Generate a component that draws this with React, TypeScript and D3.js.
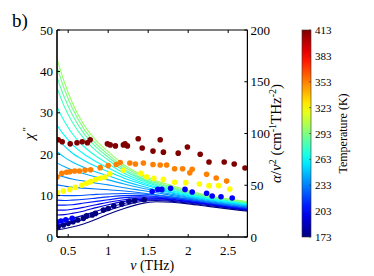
import * as d3 from 'd3';

// frequency grid (THz) shared by every chi'' curve
const FREQ = [0.36, 0.45, 0.55, 0.7, 0.85, 1.0, 1.2, 1.4, 1.6, 1.8, 2.0, 2.25, 2.5, 2.75];

// temperature (K) of each chi'' curve
const LINE_TEMPS = [173, 180, 187, 194, 201, 208, 215, 222, 229, 236, 243, 250, 257, 264, 271, 278, 285, 292, 299];

// chi'' values, one row per temperature
const CHI = [
  [1.7, 2.0, 2.4, 3.2, 4.3, 5.5, 6.9, 8.0, 8.5, 8.4, 8.0, 7.4, 6.8, 6.2],
  [2.9, 3.1, 3.5, 4.3, 5.4, 6.4, 7.6, 8.5, 8.8, 8.6, 8.2, 7.6, 7.0, 6.4],
  [4.1, 4.2, 4.5, 5.3, 6.2, 7.1, 8.1, 8.8, 9.0, 8.8, 8.4, 7.8, 7.1, 6.5],
  [5.3, 5.4, 5.7, 6.3, 7.1, 7.8, 8.6, 9.1, 9.2, 9.0, 8.5, 7.9, 7.2, 6.6],
  [6.5, 6.5, 6.7, 7.2, 7.8, 8.4, 9.0, 9.4, 9.4, 9.1, 8.6, 8.0, 7.3, 6.7],
  [7.7, 7.7, 7.8, 8.2, 8.6, 9.0, 9.5, 9.7, 9.6, 9.3, 8.8, 8.1, 7.4, 6.8],
  [8.9, 8.8, 8.9, 9.1, 9.4, 9.7, 10.0, 10.0, 9.8, 9.4, 8.9, 8.2, 7.5, 6.9],
  [10.1, 10.0, 10.0, 10.1, 10.3, 10.4, 10.5, 10.4, 10.1, 9.6, 9.1, 8.4, 7.6, 7.0],
  [12.6, 12.3, 12.0, 11.8, 11.6, 11.4, 11.1, 10.7, 10.2, 9.7, 9.2, 8.4, 7.8, 7.2],
  [15.0, 14.5, 14.0, 13.5, 13.0, 12.6, 11.9, 11.3, 10.7, 10.0, 9.4, 8.6, 7.9, 7.3],
  [17.9, 17.0, 16.2, 15.3, 14.5, 13.8, 12.8, 11.9, 11.1, 10.3, 9.6, 8.8, 8.1, 7.5],
  [20.6, 19.3, 18.1, 16.8, 15.7, 14.8, 13.5, 12.4, 11.4, 10.6, 9.8, 9.0, 8.3, 7.6],
  [23.9, 22.0, 20.3, 18.5, 17.0, 15.8, 14.2, 12.9, 11.8, 10.8, 10.0, 9.1, 8.4, 7.8],
  [27.0, 24.6, 22.4, 20.0, 18.2, 16.7, 14.8, 13.3, 12.1, 11.1, 10.2, 9.3, 8.5, 7.9],
  [31.4, 28.0, 25.0, 21.8, 19.5, 17.7, 15.4, 13.7, 12.4, 11.3, 10.4, 9.4, 8.7, 8.0],
  [36.0, 31.6, 27.8, 23.7, 20.8, 18.6, 16.0, 14.1, 12.7, 11.6, 10.6, 9.6, 8.8, 8.2],
  [38.6, 33.8, 29.6, 24.9, 21.7, 19.3, 16.4, 14.4, 13.0, 11.8, 10.8, 9.8, 9.0, 8.3],
  [41.0, 35.8, 31.2, 26.0, 22.5, 19.9, 16.9, 14.8, 13.3, 12.1, 11.0, 9.9, 9.1, 8.4],
  [43.0, 37.5, 32.5, 27.0, 23.3, 20.6, 17.4, 15.2, 13.6, 12.4, 11.2, 10.0, 9.2, 8.5],
];

// alpha/nu^2 points [nu, value] per temperature
const DOTS_173: [number, number][] = [
  [0.375, 10], [0.44, 11.6], [0.5, 13.2], [0.56, 14.8], [0.62, 16.4], [0.69, 18], [0.73, 20.4],
  [0.8, 21.2], [0.84, 22.8], [0.94, 26], [1.0, 27.6], [1.07, 30], [1.17, 32], [1.26, 34.5],
  [1.33, 35], [1.45, 36],
];
const DOTS_203: [number, number][] = [
  [0.36, 14], [0.41, 15.5], [0.47, 16.5], [0.55, 18], [1.55, 44], [1.62, 46], [1.67, 46],
  [1.78, 47], [1.96, 46], [2.05, 43.5], [2.23, 42.2], [2.3, 39.6], [2.41, 38.9], [2.55, 37.7],
];
const DOTS_323: [number, number][] = [
  [0.36, 43], [0.44, 44.5], [0.52, 46], [0.59, 48], [0.67, 50], [0.73, 52], [0.78, 53.5],
  [0.84, 55.5], [0.9, 56.7], [0.96, 58], [1.02, 61], [1.19, 64.5], [1.41, 61.5], [1.48, 58.2],
  [1.57, 56.7], [1.69, 55.7], [1.83, 52.8], [1.97, 52.5], [2.14, 51.2], [2.26, 49.6],
  [2.38, 49.6], [2.52, 46.4],
];
const DOTS_353: [number, number][] = [
  [0.36, 58], [0.42, 61.5], [0.48, 62.5], [0.52, 63], [0.58, 63.8], [0.64, 63.8], [0.71, 64.5],
  [0.78, 65], [0.9, 67], [1.0, 69], [1.1, 70], [1.15, 72], [1.27, 71.5], [1.34, 70.5],
  [1.44, 71.5], [1.56, 70], [1.65, 69.5], [1.73, 69.5], [1.83, 66], [1.93, 66], [2.02, 62],
  [2.05, 65.5], [2.23, 60.6], [2.35, 57], [2.48, 54],
];
const DOTS_413: [number, number][] = [
  [0.375, 94], [0.425, 92], [0.525, 90], [0.61, 91], [0.675, 92], [0.74, 91], [0.775, 94],
  [0.99, 90], [1.025, 89], [1.09, 88], [1.19, 89], [1.21, 90], [1.24, 88], [1.375, 95],
  [1.425, 86], [1.56, 83], [1.65, 94], [1.69, 82], [1.875, 81], [1.99, 87], [2.15, 80],
  [2.26, 72.5], [2.45, 72.5], [2.575, 70.5], [2.71, 66.7],
];
const DOT_SERIES: { temp: number; pts: [number, number][] }[] = [
  { temp: 173, pts: DOTS_173 },
  { temp: 203, pts: DOTS_203 },
  { temp: 323, pts: DOTS_323 },
  { temp: 353, pts: DOTS_353 },
  { temp: 413, pts: DOTS_413 },
];

const X_TICKS = [0.5, 1, 1.5, 2, 2.5];
const Y_LEFT_TICKS = [0, 10, 20, 30, 40, 50];
const Y_RIGHT_TICKS = [0, 50, 100, 150, 200];
const CBAR_TICKS = [173, 203, 233, 263, 293, 323, 353, 383, 413];

function jet(t: number) {
  const c = (v: number) => Math.round(255 * Math.max(0, Math.min(1, v)));
  return `rgb(${c(1.5 - Math.abs(4 * t - 3))},${c(1.5 - Math.abs(4 * t - 2))},${c(1.5 - Math.abs(4 * t - 1))})`;
}

export default function App() {
  const W = 374;
  const H = 276;
  const plot = { left: 57, right: 247.4, top: 30, bottom: 237 };
  const font = 'Liberation Serif, serif';

  const x = d3.scaleLinear().domain([0.36, 2.74]).range([plot.left, plot.right]);
  const yL = d3.scaleLinear().domain([0, 50]).range([plot.bottom, plot.top]);
  const yR = d3.scaleLinear().domain([0, 200]).range([plot.bottom, plot.top]);
  const tScale = d3.scaleLinear().domain([173, 413]).range([0, 1]);
  const color = (T: number) => jet(tScale(T));

  const line = d3
    .line<number>()
    .x((_, i) => x(FREQ[i]))
    .y((d) => yL(d))
    .curve(d3.curveMonotoneX);

  const cbar = { x: 302, w: 9, top: 30, bottom: 237 };
  const cScale = d3.scaleLinear().domain([173, 413]).range([cbar.bottom, cbar.top]);
  const stops = d3.range(0, 1.0001, 0.05);

  const plotMidY = (plot.top + plot.bottom) / 2;

  return (
    <svg width={W} height={H} style={{ position: 'fixed', left: 0, top: 0, background: '#fff' }} fontFamily={font}>
      <defs>
        <clipPath id="plotClip">
          <rect x={plot.left} y={plot.top} width={plot.right - plot.left} height={plot.bottom - plot.top} />
        </clipPath>
        <linearGradient id="jetGrad" x1="0" y1="1" x2="0" y2="0">
          {stops.map((s) => (
            <stop key={s} offset={s} stopColor={jet(s)} />
          ))}
        </linearGradient>
      </defs>

      <text x={12} y={27} fontSize={19}>b)</text>

      <g clipPath="url(#plotClip)">
        {CHI.map((row, i) => (
          <path key={i} d={line(row) ?? ''} fill="none" stroke={color(LINE_TEMPS[i])} strokeWidth={1.1} />
        ))}
        {DOT_SERIES.map((s) =>
          s.pts.map(([nu, v], j) => (
            <circle key={`${s.temp}-${j}`} cx={x(nu)} cy={yR(v)} r={2.8} fill={color(s.temp)} />
          ))
        )}
      </g>

      {/* frame */}
      <line x1={plot.left} x2={plot.right} y1={plot.top} y2={plot.top} stroke="#000" strokeWidth={1} />
      <line x1={plot.right} x2={plot.right} y1={plot.top} y2={plot.bottom} stroke="#000" strokeWidth={1.2} />
      <line x1={plot.left} x2={plot.right} y1={plot.bottom} y2={plot.bottom} stroke="#000" strokeWidth={1.6} />
      <line x1={plot.left} x2={plot.left} y1={plot.top} y2={plot.bottom} stroke="#000" strokeWidth={1.6} />

      {X_TICKS.map((t) => (
        <g key={t}>
          <line x1={x(t)} x2={x(t)} y1={plot.bottom} y2={plot.bottom - 3} stroke="#000" />
          <line x1={x(t)} x2={x(t)} y1={plot.top} y2={plot.top + 3} stroke="#000" />
          <text x={x(t)} y={plot.bottom + 18} fontSize={13} textAnchor="middle">{t}</text>
        </g>
      ))}
      {Y_LEFT_TICKS.map((t) => (
        <g key={t}>
          <line x1={plot.left} x2={plot.left + 3} y1={yL(t)} y2={yL(t)} stroke="#000" />
          <text x={plot.left - 4} y={yL(t) + 4.5} fontSize={13} textAnchor="end">{t}</text>
        </g>
      ))}
      {Y_RIGHT_TICKS.map((t) => (
        <g key={t}>
          <line x1={plot.right} x2={plot.right - 3} y1={yR(t)} y2={yR(t)} stroke="#000" />
          <text x={plot.right + 3} y={yR(t) + 4.5} fontSize={13} textAnchor="start">{t}</text>
        </g>
      ))}

      <text x={(plot.left + plot.right) / 2} y={270} fontSize={14} textAnchor="middle">
        <tspan fontStyle="italic">ν</tspan> (THz)
      </text>
      <text transform={`translate(34,${plotMidY}) rotate(-90)`} fontSize={15} textAnchor="middle">
        <tspan fontStyle="italic">χ</tspan>
        <tspan dx={2} fontSize={11} dy={-4}>''</tspan>
      </text>
      <text transform={`translate(281,${plotMidY}) rotate(-90)`} fontSize={15} textAnchor="middle">
        <tspan fontStyle="italic">α</tspan>/<tspan fontStyle="italic">ν</tspan>
        <tspan fontSize={10} dy={-5}>2</tspan>
        <tspan dy={5}> (cm</tspan>
        <tspan fontSize={10} dy={-5}>-1</tspan>
        <tspan dy={5}>THz</tspan>
        <tspan fontSize={10} dy={-5}>-2</tspan>
        <tspan dy={5}>)</tspan>
      </text>

      {/* colorbar */}
      <rect x={cbar.x} y={cbar.top} width={cbar.w} height={cbar.bottom - cbar.top} fill="url(#jetGrad)" stroke="#333" strokeWidth={0.6} />
      {CBAR_TICKS.map((t) => (
        <g key={t}>
          <line x1={cbar.x + cbar.w} x2={cbar.x + cbar.w - 2} y1={cScale(t)} y2={cScale(t)} stroke="#333" strokeWidth={0.6} />
          <text x={cbar.x + cbar.w + 4} y={cScale(t) + 4} fontSize={11}>{t}</text>
        </g>
      ))}
      <text transform={`translate(347,${(cbar.top + cbar.bottom) / 2}) rotate(-90)`} fontSize={12} textAnchor="middle">
        Temperature (K)
      </text>
    </svg>
  );
}
